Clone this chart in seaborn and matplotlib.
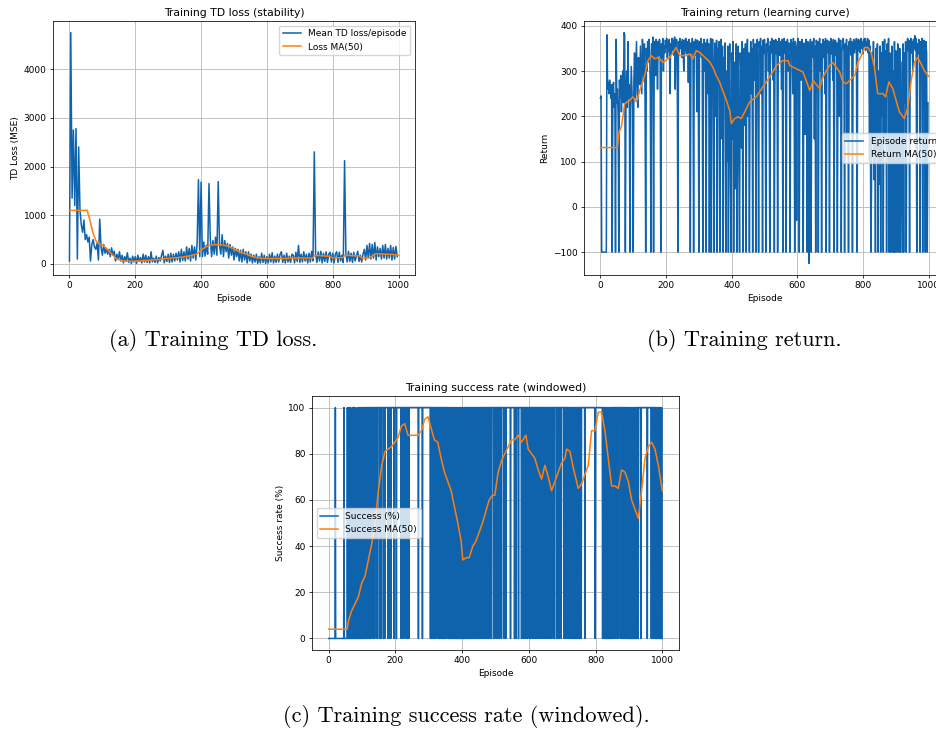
import numpy as np
import matplotlib
matplotlib.use('Agg')
import matplotlib.pyplot as plt
import seaborn as sns

BLUE = '#0f63ad'
ORANGE = '#ff7f0e'

# loss values are read every 4 episodes, returns every 2
LOSS_STEP = 4
RET_STEP = 2

# mean TD loss per episode (every 4th episode)
loss_raw = [
    60, 4750, 1350, 2750, 1200, 2780, 100, 2400, 1100, 800,
    650, 900, 500, 600, 450, 550, 60, 400, 500, 350,
    300, 420, 80, 920, 350, 180, 400, 220, 320, 200,
    300, 150, 330, 180, 260, 60, 200, 90, 250, 60,
    180, 20, 150, 60, 230, 30, 120, 10, 160, 40,
    150, 10, 180, 50, 130, 20, 200, 40, 180, 30,
    150, 20, 250, 40, 120, 30, 160, 20, 130, 60,
    180, 280, 20, 160, 50, 200, 30, 220, 40, 200,
    60, 220, 80, 250, 40, 300, 70, 250, 60, 350,
    100, 320, 60, 380, 120, 350, 80, 420, 1730, 150,
    1680, 150, 450, 160, 380, 200, 1650, 500, 150, 480,
    200, 550, 180, 1690, 380, 200, 600, 150, 480, 250,
    420, 120, 400, 180, 350, 80, 320, 150, 300, 60,
    280, 40, 300, 80, 250, 20, 250, 60, 200, 20,
    180, 40, 200, 10, 150, 20, 220, 30, 180, 10,
    150, 20, 200, 40, 230, 20, 160, 30, 200, 40,
    200, 250, 30, 180, 20, 220, 40, 160, 30, 200,
    180, 20, 240, 50, 380, 30, 200, 40, 250, 60,
    200, 20, 220, 40, 260, 60, 2300, 200, 30, 250,
    60, 260, 20, 220, 50, 250, 30, 200, 240, 40,
    220, 20, 200, 250, 30, 240, 60, 180, 30, 2120,
    200, 40, 260, 50, 220, 30, 240, 60, 160, 260,
    50, 180, 40, 200, 300, 80, 380, 120, 420, 100,
    400, 120, 440, 80, 350, 150, 320, 100, 380, 120,
    400, 100, 320, 120, 380, 80, 340, 100, 360, 150,
]

loss_ma_ep = [0, 54, 62, 72, 82, 92, 102, 112, 122, 132,
              143, 153, 163, 178, 193, 215, 244, 270, 295, 320,
              345, 365, 386, 396, 406, 416, 426, 440, 456, 470,
              487, 497, 507, 520, 537, 552, 568, 583, 598, 625,
              649, 675, 699, 720, 740, 745, 770, 790, 801, 815,
              831, 836, 860, 882, 892, 912, 922, 932, 947, 962,
              980, 1000]
loss_ma = [1100, 1100, 900, 620, 452, 410, 384, 320, 247, 180,
           110, 85, 62, 58, 55, 65, 75, 90, 110, 125,
           144, 165, 200, 260, 315, 350, 384, 395, 397, 385,
           350, 320, 280, 240, 200, 160, 130, 115, 110, 110,
           110, 118, 123, 120, 123, 178, 165, 158, 123, 125,
           130, 178, 170, 164, 110, 130, 170, 212, 205, 200,
           195, 178]

# episode return (every 2nd episode)
ret_raw = [
    240, 245, -100, -100, -100, -100, -100, -100, -100, -100,
    380, 260, 275, 250, 280, 265, 240, 270, -100, 255,
    275, 220, 250, -100, 370, 230, 260, 200, -100, 280,
    240, 290, 210, 265, 300, 230, 385, 380, -100, 250,
    300, 220, 365, 240, 270, -100, 230, 310, 260, 215,
    -100, 280, 340, 240, 300, 365, 250, 220, 330, 290,
    270, 355, 300, 250, 370, 330, 280, 360, 240, -100,
    350, 300, 365, 320, 370, 340, 260, -100, 360, 330,
    375, -100, 340, 365, 290, 370, 350, 260, 365, 335,
    370, 345, -100, 360, 330, 372, 300, 355, 340, 368,
    350, 372, 330, 365, 345, 370, 250, 360, 338, 372,
    345, 368, 335, 375, 260, 352, 370, 340, -100, 365,
    342, 372, 350, 365, 330, 370, 355, 300, 368, 345,
    372, 338, 365, 350, 275, 370, 345, -100, 362, 340,
    372, 350, -100, 365, 335, 370, 348, 210, 368, 342,
    -100, 365, 345, 372, 330, 360, -100, 350, 370, 300,
    362, -100, 345, 370, 250, 360, -100, 340, 372, -100,
    355, 370, 280, -100, 362, 340, 200, 368, -100, 350,
    300, 365, -100, 340, 370, 150, 355, -100, 330, 250,
    362, -100, 300, 100, 355, -100, 280, 360, 60, -100,
    340, 150, 365, -100, 250, 320, 40, 360, -100, 200,
    355, 90, -100, 340, 300, 130, 365, -100, 250, 350,
    180, 360, -100, 320, 370, 200, 340, -100, 300, 365,
    250, 350, -100, 370, 330, 280, 360, -100, 345, 370,
    310, -100, 365, 340, 372, 250, 355, -100, 368, 340,
    370, 330, -100, 360, 345, 372, 300, 355, -100, 365,
    340, 372, 350, 280, 368, -100, 345, 370, 338, 365,
    -100, 355, 372, 335, 365, 350, 260, 370, -100, 348,
    372, 340, 365, -100, 350, 370, 300, 362, 345, -100,
    370, 338, 362, 250, 372, 345, -100, 365, 340, -30,
    355, 372, 330, -100, 365, 345, 280, 370, 340, -100,
    362, 350, 160, 370, 338, -100, 365, 200, -125, 350,
    370, -100, 345, 365, 330, 372, 150, 355, -100, 368,
    340, 365, -100, 350, 372, 300, 360, -100, 345, 370,
    330, 365, 250, 372, -100, 355, 368, 340, 365, -100,
    350, 372, 338, 365, 280, 370, -100, 345, 368, 335,
    362, -100, 350, 372, 200, 355, 368, -100, 340, 365,
    372, 345, -100, 360, 338, 370, 150, 355, -100, 365,
    345, 372, 335, 365, -100, 350, 370, 340, 362, 348,
    372, -100, 355, 370, 345, 368, 340, 372, 350, 365,
    338, 370, 355, 372, 345, 365, 350, 372, 340, 368,
    100, 355, -100, 40, 340, 150, 365, 60, 300, -100,
    350, 120, 360, -100, 300, 50, 355, -100, 340, 200,
    365, -100, 330, 370, 150, 345, -100, 360, 250, 372,
    -100, 340, -100, 70, 355, -100, 300, -100, 365, -100,
    345, 0, -100, 360, 280, -100, 350, -100, 320, 100,
    -100, 360, -100, 340, 230, 365, -100, 350, 372, 345,
    368, -100, 355, 372, 340, 365, 300, 370, 350, 378,
    345, 372, -100, 360, 338, 370, 355, -100, 365, 340,
    372, -100, 350, 368, 250, -100, 365, 340, -100, 230,
]

ret_ma_ep = [0, 52, 57, 64, 74, 89, 99, 110, 120, 135,
             145, 155, 165, 176, 191, 211, 231, 242, 262, 272,
             282, 292, 303, 313, 323, 333, 343, 353, 363, 374,
             384, 394, 399, 409, 419, 429, 440, 455, 475, 495,
             516, 536, 556, 572, 577, 597, 617, 627, 638, 648,
             668, 678, 698, 708, 719, 729, 739, 749, 759, 775,
             785, 795, 805, 815, 825, 835, 845, 861, 869, 879,
             891, 901, 911, 926, 937, 947, 957, 967, 977, 987,
             1000]
ret_ma = [131, 131, 166, 177, 228, 235, 243, 232, 257, 290,
          323, 334, 327, 330, 319, 330, 352, 334, 334, 338,
          327, 345, 341, 334, 327, 320, 308, 290, 276, 254,
          235, 213, 184, 195, 199, 195, 210, 232, 243, 265,
          287, 312, 323, 323, 312, 305, 298, 279, 257, 279,
          261, 287, 312, 319, 308, 298, 276, 272, 279, 290,
          320, 334, 352, 352, 341, 308, 250, 250, 243, 276,
          261, 235, 210, 195, 220, 279, 320, 330, 316, 301,
          288]

# success per episode, 1 = reached goal (one string per 50 episodes)
succ_rows = [
    "0000000000" "0000000000" "1000000000" "0000000000" "0000001000",
    "0000001000" "0100101000" "0010010100" "1000001000" "0100100010",
    "1010010101" "0110100110" "1101001011" "1110110101" "1111101111",
    "1101111011" "1111011101" "1111111101" "1011110111" "1111110111",
    "1110111111" "1111111011" "1101111101" "1111101111" "0111111111",
    "1111111111" "1111111110" "1111111111" "1011111111" "1111111111",
    "1111101101" "1110011110" "1011111001" "1101011101" "0110110101",
    "1010111100" "0101001010" "1001010010" "0100100010" "0010010010",
    "0101000110" "1001001010" "0101101001" "1010010110" "0110101001",
    "1011010110" "0110111100" "1101101101" "1011101101" "1111100110",
    "1111011011" "1101111101" "1111110111" "1011111111" "1111101111",
    "1111111011" "1101111110" "1111111101" "1110111011" "1011110111",
    "1101101110" "1111011101" "1011011011" "1101110110" "1110111101",
    "0111011011" "1101101011" "1110111011" "1111011110" "1011111011",
    "1111101101" "1101111011" "1011010101" "0101101001" "1001011010",
    "1101111011" "1111111101" "1111111111" "1111111111" "1111111110",
    "1111111111" "1111111111" "1010110010" "0100101001" "1001000110",
    "1101101101" "1011101011" "1111011011" "1101010110" "0101100101",
    "0100100010" "1001010010" "0101101001" "1111110111" "1111111111",
    "1111101111" "1111111011" "1101011011" "0100101001" "1001001010",
]

succ_ma_ep = [0, 55, 60, 69, 79, 89, 99, 109, 119, 129,
              139, 149, 159, 169, 178, 188, 198, 208, 218, 228,
              238, 248, 268, 278, 288, 298, 307, 317, 327, 337,
              347, 357, 367, 377, 387, 397, 402, 412, 421, 432,
              441, 451, 461, 471, 481, 491, 498, 508, 518, 528,
              538, 548, 558, 568, 578, 591, 598, 608, 618, 628,
              638, 648, 658, 668, 678, 688, 698, 708, 713, 723,
              733, 743, 748, 758, 768, 778, 788, 798, 808, 818,
              828, 838, 848, 858, 868, 878, 888, 898, 908, 918,
              928, 938, 948, 958, 968, 978, 988, 1000]
succ_ma = [4, 4, 8, 12, 15, 18, 24, 27, 34, 41,
           50, 64, 75, 81, 82, 83, 85, 87, 92, 93,
           88, 88, 88, 90, 95, 96, 91, 86, 85, 78,
           72, 68, 64, 57, 50, 42, 34, 35, 35, 40,
           42, 46, 50, 55, 60, 62, 62, 72, 77, 80,
           83, 86, 86, 88, 85, 88, 82, 80, 78, 73,
           69, 75, 70, 64, 68, 72, 76, 78, 82, 81,
           74, 68, 65, 67, 71, 75, 90, 90, 98, 98,
           90, 78, 66, 66, 65, 73, 72, 68, 60, 56,
           52, 64, 78, 83, 85, 82, 75, 64]


plt.rcParams.update({
    'font.size': 6.5,
    'axes.titlesize': 7.8,
    'axes.linewidth': 0.55,
    'xtick.major.width': 0.55,
    'ytick.major.width': 0.55,
    'xtick.major.size': 2.3,
    'ytick.major.size': 2.3,
    'xtick.major.pad': 2.3,
    'ytick.major.pad': 2.3,
    'grid.linewidth': 0.6,
    'axes.titlepad': 3.9,
    'axes.labelpad': 2.6,
    'legend.fontsize': 6.5,
})


def panel(ax, x_raw, y_raw, x_ma, y_ma, lbl_raw, lbl_ma, title, ylabel, loc):
    sns.lineplot(x=x_raw, y=y_raw, ax=ax, color=BLUE, lw=1.1, label=lbl_raw,
                 estimator=None, sort=False)
    sns.lineplot(x=x_ma, y=y_ma, ax=ax, color=ORANGE, lw=1.1, label=lbl_ma,
                 estimator=None, sort=False)
    ax.set_title(title)
    ax.set_xlabel('Episode')
    ax.set_ylabel(ylabel)
    ax.set_xticks([0, 200, 400, 600, 800, 1000])
    ax.grid(True, color='#b8b8b8')
    ax.legend(loc=loc)


fig = plt.figure(figsize=(9.37, 7.32), dpi=100)
W, H = 937, 732


def box(left, top, w, h):
    return [left / W, 1 - (top + h) / H, w / W, h / H]


ax_a = fig.add_axes(box(53, 21, 362, 254))
ax_b = fig.add_axes(box(584, 21, 361, 254))
ax_c = fig.add_axes(box(312, 396, 367, 254))

ep_loss = np.arange(len(loss_raw)) * LOSS_STEP
ep_ret = np.arange(len(ret_raw)) * RET_STEP
succ = [100 if c == '1' else 0 for c in ''.join(succ_rows)]
ep_succ = np.arange(len(succ))

panel(ax_a, ep_loss, loss_raw, loss_ma_ep, loss_ma,
      'Mean TD loss/episode', 'Loss MA(50)',
      'Training TD loss (stability)', 'TD Loss (MSE)', 'upper right')
panel(ax_b, ep_ret, ret_raw, ret_ma_ep, ret_ma,
      'Episode return', 'Return MA(50)',
      'Training return (learning curve)', 'Return', 'center right')
panel(ax_c, ep_succ, succ, succ_ma_ep, succ_ma,
      'Success (%)', 'Success MA(50)',
      'Training success rate (windowed)', 'Success rate (%)', 'center left')

cap = dict(ha='center', va='center', fontfamily='cmr10', fontsize=16)
fig.text(213 / W, 1 - 341 / H, '(a) Training TD loss.', **cap)
fig.text(744 / W, 1 - 341 / H, '(b) Training return.', **cap)
fig.text(466 / W, 1 - 716 / H, '(c) Training success rate (windowed).', **cap)

fig.savefig('out.png', dpi=100)
